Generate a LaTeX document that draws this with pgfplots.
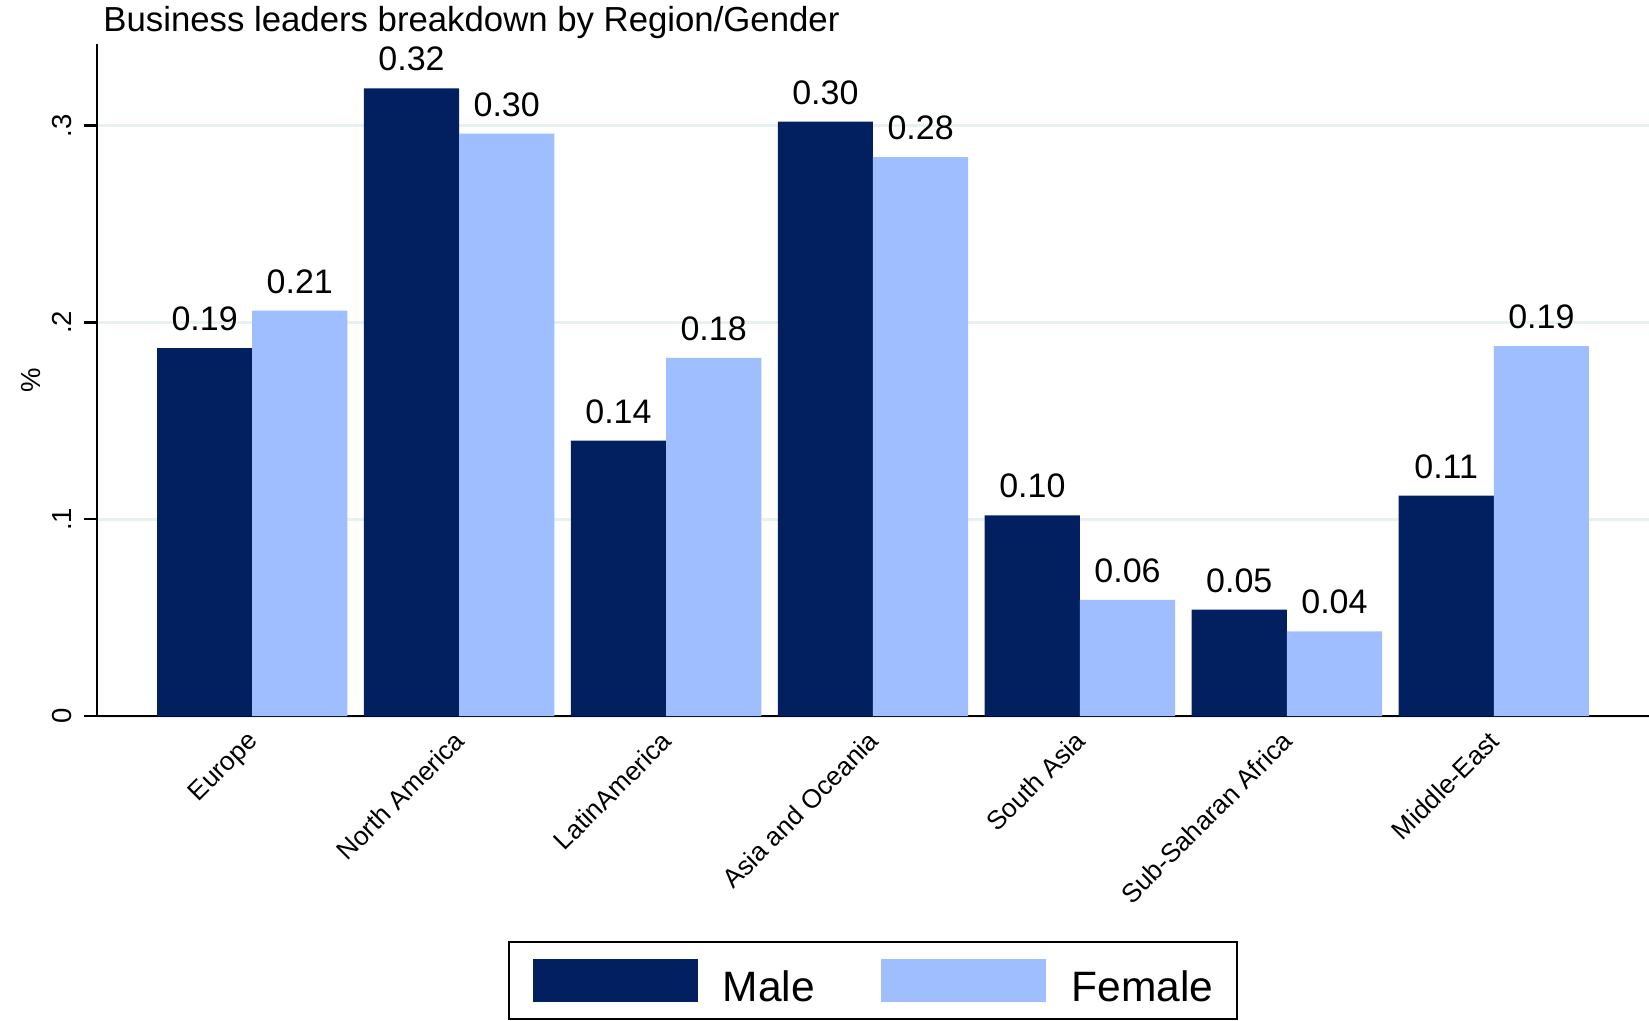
\documentclass[border=0pt]{standalone}
\usepackage{fontspec}
\setmainfont{Liberation Sans}
\usepackage{pgfplots}
\pgfplotsset{compat=1.18}

\definecolor{male}{RGB}{2,32,96}
\definecolor{female}{RGB}{158,190,255}
\definecolor{gridc}{RGB}{232,241,242}

\begin{document}
\begin{tikzpicture}
\begin{axis}[
    at={(0,0)}, anchor=south west,
    scale only axis, width=620.8pt, height=268.8pt,
    ybar=0pt, bar width=0.46,
    xmin=-0.75, xmax=6.75, ymin=0, ymax=0.3415,
    axis lines*=left,
    axis line style={line width=1pt},
    xtick={0,...,6},
    xticklabels={Europe, North America, LatinAmerica, Asia and Oceania, South Asia, Sub-Saharan Africa, Middle-East},
    xtick style={draw=none},
    xticklabel style={xshift=-2.5pt, yshift=0pt, rotate=45, anchor=north east, inner sep=0pt, font=\fontsize{10.5}{12}\selectfont},
    ytick={0,0.1,0.2,0.3}, yticklabels={0,.1,.2,.3},
    ytick style={line width=1pt, black},
    tick align=outside, major tick length=5.2pt,
    yticklabel style={xshift=-4.6pt, rotate=90, anchor=south, inner sep=0pt, font=\fontsize{11}{13}\selectfont},
    ymajorgrids, grid style={gridc, line width=1.2pt},
    /pgf/number format/assume math mode=true,
    nodes near coords={\pgfmathprintnumber[fixed,fixed zerofill,precision=2]{\pgfplotspointmeta}},
    every node near coord/.append style={anchor=base, yshift=7pt, font=\fontsize{13.6}{15}\selectfont, black},
    title={Business leaders breakdown by Region/Gender},
    every axis title/.style={at={(axis description cs:0,1)}, anchor=base west, inner sep=0pt, xshift=2.4pt, yshift=5pt, font=\fontsize{13.9}{16}\selectfont},
    ylabel={\%},
    every axis y label/.style={at={(axis description cs:0,0.5)}, xshift=-26.2pt, rotate=90, anchor=center, font=\fontsize{11}{13}\selectfont},
    legend style={at={(0.5,-0.3348)}, anchor=north, legend columns=2, draw=black, line width=0.8pt,
        inner xsep=9.6pt, inner ysep=6.8pt, cells={anchor=base west}, nodes={inner sep=0pt, text depth=0pt},
        font=\fontsize{17}{20}\selectfont,
        /tikz/every odd column/.append style={column sep=10pt},
        /tikz/every even column/.append style={column sep=26.6pt}},
    legend image code/.code={\fill (0pt,0pt) rectangle (66pt,17.2pt);},
]

% Male
\addplot[fill=male, draw=none] coordinates {
    (0,0.187) (1,0.319) (2,0.140) (3,0.302) (4,0.102) (5,0.054) (6,0.112)
};

% Female
\addplot[fill=female, draw=none] coordinates {
    (0,0.206) (1,0.296) (2,0.182) (3,0.284) (4,0.059) (5,0.043) (6,0.188)
};

\legend{Male, Female}
\end{axis}
\pgfresetboundingbox
\path[use as bounding box] (-38.8pt,-121.6pt) rectangle (620.8pt,286.4pt);
\end{tikzpicture}
\end{document}
